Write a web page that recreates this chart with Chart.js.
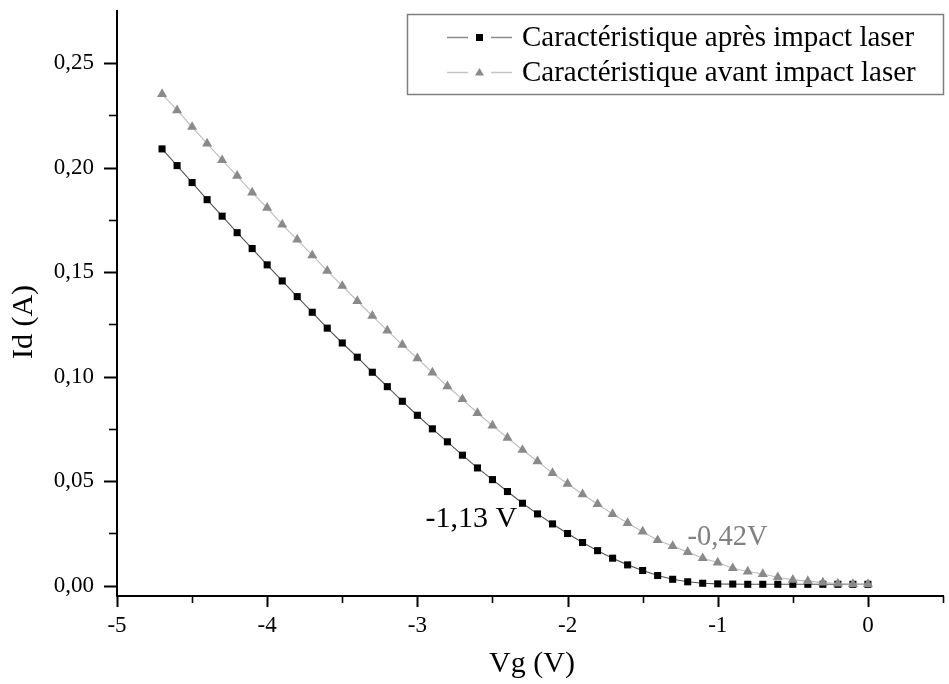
<!DOCTYPE html>
<html>
<head>
<meta charset="utf-8">
<script src="https://cdn.jsdelivr.net/npm/chart.js@4/dist/chart.umd.min.js"></script>
<style>
  html, body { margin: 0; padding: 0; background: #fff; }
  #wrap { width: 949px; height: 684px; }
</style>
</head>
<body>
<div id="wrap"><canvas id="c" width="949" height="684"></canvas></div>
<script>
// ---- data ----
const vg = [-4.7,-4.6,-4.5,-4.4,-4.3,-4.2,-4.1,-4.0,-3.9,-3.8,-3.7,-3.6,-3.5,-3.4,-3.3,-3.2,-3.1,-3.0,-2.9,-2.8,-2.7,-2.6,-2.5,-2.4,-2.3,-2.2,-2.1,-2.0,-1.9,-1.8,-1.7,-1.6,-1.5,-1.4,-1.3,-1.2,-1.1,-1.0,-0.9,-0.8,-0.7,-0.6,-0.5,-0.4,-0.3,-0.2,-0.1,0.0];
const idApres = [0.2090,0.2010,0.1929,0.1847,0.1768,0.1689,0.1613,0.1535,0.1458,0.1383,0.1308,0.1232,0.1161,0.1093,0.1021,0.0952,0.0882,0.0815,0.0750,0.0688,0.0624,0.0563,0.0507,0.0450,0.0394,0.0343,0.0295,0.0249,0.0206,0.0167,0.0131,0.0099,0.0072,0.0048,0.0030,0.0018,0.0011,0.0008,0.0007,0.0006,0.0006,0.0006,0.0006,0.0006,0.0006,0.0006,0.0006,0.0006];
const idAvant = [0.2352,0.2275,0.2195,0.2115,0.2036,0.1961,0.1881,0.1808,0.1728,0.1656,0.1581,0.1506,0.1434,0.1362,0.1291,0.1220,0.1152,0.1088,0.1019,0.0954,0.0892,0.0826,0.0766,0.0707,0.0649,0.0595,0.0538,0.0487,0.0437,0.0390,0.0342,0.0299,0.0258,0.0217,0.0189,0.0160,0.0131,0.0110,0.0083,0.0067,0.0055,0.0040,0.0027,0.0021,0.0014,0.0009,0.0007,0.0007];
const seriesLabels = ['Caractéristique après impact laser', 'Caractéristique avant impact laser'];

const xMajorTicks = [-5, -4, -3, -2, -1, 0];
const xTickLabels = ['-5', '-4', '-3', '-2', '-1', '0'];
const xMinorTicks = [-4.5, -3.5, -2.5, -1.5, -0.5, 0.5];
const yMajorTicks = [0, 0.05, 0.10, 0.15, 0.20, 0.25];
const yTickLabels = ['0,00', '0,05', '0,10', '0,15', '0,20', '0,25'];
const yMinorTicks = [0.025, 0.075, 0.125, 0.175, 0.225];

const xTitle = 'Vg (V)';
const yTitle = 'Id (A)';
const annotTexts = ['-1,13 V', '-0,42V'];
const annotX = [-2.64, -0.935];
const annotY = [0.0319, 0.0228];

// ---- styles / layout ----
const FONT = "'Liberation Serif', 'Times New Roman', serif";
const annotColors = ['#000000', '#808080'];
const annotSizes = [30, 28.5];

function mergedTicks(major, minor) {
  return major.concat(minor).sort((a, b) => a - b).map(v => ({ value: v }));
}
function labelFor(major, labels, v) {
  const i = major.findIndex(m => Math.abs(m - v) < 1e-9);
  return i >= 0 ? labels[i] : '';
}

const tickPlugin = {
  id: 'customTicks',
  afterDraw(chart) {
    const ctx = chart.ctx;
    const xs = chart.scales.x, ys = chart.scales.y;
    const area = chart.chartArea;
    ctx.save();
    ctx.strokeStyle = '#000';
    ctx.lineCap = 'butt';
    xs.ticks.forEach(t => {
      const major = xMajorTicks.some(m => Math.abs(m - t.value) < 1e-9);
      const px = Math.round(xs.getPixelForValue(t.value)) + 0.5;
      ctx.lineWidth = major ? 2 : 1.6;
      ctx.beginPath();
      ctx.moveTo(px, area.bottom);
      ctx.lineTo(px, area.bottom + (major ? 11 : 7));
      ctx.stroke();
    });
    ys.ticks.forEach(t => {
      const major = yMajorTicks.some(m => Math.abs(m - t.value) < 1e-9);
      const py = Math.round(ys.getPixelForValue(t.value)) + 0.5;
      ctx.lineWidth = major ? 2 : 1.6;
      ctx.beginPath();
      ctx.moveTo(area.left, py);
      ctx.lineTo(area.left - (major ? 13 : 8), py);
      ctx.stroke();
    });
    // axis titles
    ctx.fillStyle = '#000';
    ctx.font = '30px ' + FONT;
    ctx.textAlign = 'center';
    ctx.textBaseline = 'middle';
    ctx.fillText(xTitle, (area.left + area.right) / 2 + 2, 664);
    ctx.save();
    ctx.translate(24, 322);
    ctx.rotate(-Math.PI / 2);
    ctx.fillText(yTitle, 0, 0);
    ctx.restore();
    // annotations
    annotTexts.forEach((txt, i) => {
      ctx.font = annotSizes[i] + 'px ' + FONT;
      ctx.fillStyle = annotColors[i];
      ctx.fillText(txt, xs.getPixelForValue(annotX[i]), ys.getPixelForValue(annotY[i]));
    });
    // legend box
    const bx = 407, by = 14, bw = 536, bh = 80;
    ctx.fillStyle = '#fff';
    ctx.fillRect(bx, by, bw, bh);
    ctx.strokeStyle = '#7f7f7f';
    ctx.lineWidth = 1.5;
    ctx.strokeRect(bx + 0.5, by + 0.5, bw, bh);
    const rowsY = [37, 72];
    chart.data.datasets.forEach((ds, i) => {
      const y = rowsY[i];
      ctx.strokeStyle = ds.legendLine;
      ctx.lineWidth = 1.5;
      ctx.beginPath();
      ctx.moveTo(447, y + 0.5); ctx.lineTo(468, y + 0.5);
      ctx.moveTo(491, y + 0.5); ctx.lineTo(512, y + 0.5);
      ctx.stroke();
      ctx.fillStyle = ds.pointBackgroundColor;
      if (ds.pointStyle === 'rect') {
        ctx.fillRect(476, y - 3, 7, 7);
      } else {
        ctx.beginPath();
        ctx.moveTo(479.5, y - 4);
        ctx.lineTo(484, y + 3.5);
        ctx.lineTo(475, y + 3.5);
        ctx.closePath();
        ctx.fill();
      }
      ctx.fillStyle = '#000';
      ctx.font = '29px ' + FONT;
      ctx.textAlign = 'left';
      ctx.textBaseline = 'middle';
      ctx.fillText(ds.label, 522, y + 1);
    });
    ctx.restore();
  }
};

new Chart(document.getElementById('c'), {
  type: 'line',
  data: {
    datasets: [
      {
        label: seriesLabels[0],
        data: vg.map((v, i) => ({ x: v, y: idApres[i] })),
        borderColor: '#555555',
        borderWidth: 1.1,
        pointStyle: 'rect',
        pointRadius: 5,
        pointBackgroundColor: '#000000',
        pointBorderColor: '#000000',
        pointBorderWidth: 0,
        legendLine: '#8c8c8c',
        tension: 0,
        order: 2
      },
      {
        label: seriesLabels[1],
        data: vg.map((v, i) => ({ x: v, y: idAvant[i] })),
        borderColor: '#bdbdbd',
        borderWidth: 1.1,
        pointStyle: 'triangle',
        pointRadius: 5.8,
        pointBackgroundColor: '#8a8a8a',
        pointBorderColor: '#8a8a8a',
        pointBorderWidth: 0,
        legendLine: '#c4c4c4',
        tension: 0,
        order: 1
      }
    ]
  },
  options: {
    responsive: false,
    devicePixelRatio: 1,
    animation: false,
    layout: { padding: { left: 0, top: 11, right: 6, bottom: 0 } },
    plugins: { legend: { display: false }, tooltip: { enabled: false } },
    scales: {
      x: {
        type: 'linear',
        min: -5,
        max: 0.5,
        afterBuildTicks: s => { s.ticks = mergedTicks(xMajorTicks, xMinorTicks); },
        afterFit: s => { s.height = 88; s.paddingLeft = 0; s.paddingRight = 0; },
        border: { display: true, color: '#000', width: 2 },
        grid: { display: true, drawOnChartArea: false, drawTicks: true, tickLength: 11, tickColor: 'rgba(0,0,0,0)' },
        ticks: {
          autoSkip: false,
          maxRotation: 0,
          padding: 5,
          color: '#000',
          font: { family: FONT, size: 23 },
          callback: v => labelFor(xMajorTicks, xTickLabels, v)
        }
      },
      y: {
        type: 'linear',
        min: -0.005,
        max: 0.275,
        afterBuildTicks: s => { s.ticks = mergedTicks(yMajorTicks, yMinorTicks); },
        afterFit: s => { s.width = 117; s.paddingTop = 0; s.paddingBottom = 0; },
        border: { display: true, color: '#000', width: 2 },
        grid: { display: true, drawOnChartArea: false, drawTicks: true, tickLength: 13, tickColor: 'rgba(0,0,0,0)' },
        ticks: {
          autoSkip: false,
          padding: 10,
          color: '#000',
          font: { family: FONT, size: 23 },
          callback: v => labelFor(yMajorTicks, yTickLabels, v)
        }
      }
    }
  },
  plugins: [tickPlugin]
});
</script>
</body>
</html>
